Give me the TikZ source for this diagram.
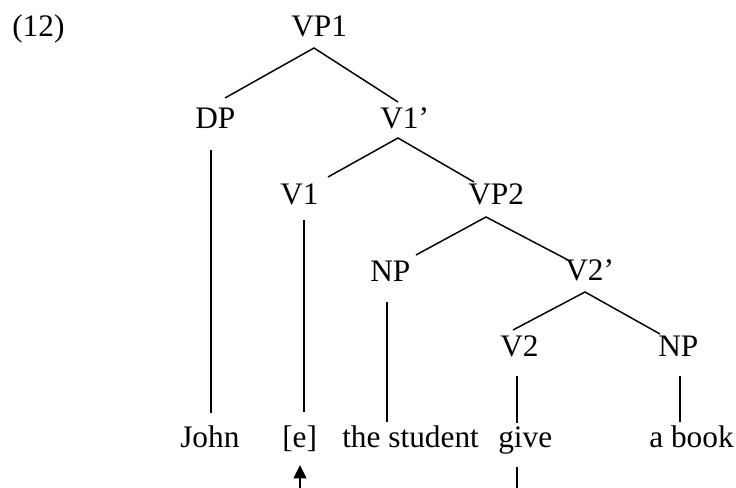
\documentclass[tikz,border=0pt]{standalone}
\usepackage{fontspec}
\setmainfont{Liberation Serif}
\usetikzlibrary{calc,arrows.meta}
\begin{document}
\begin{tikzpicture}[x=0.75pt,y=-0.75pt,
  lbl/.style={anchor=base west,inner sep=0pt,font=\fontsize{23.5}{27}\selectfont},
  br/.style={line width=1.1pt,line cap=butt}]
\useasboundingbox (0,0) rectangle (736,488);
% labels
\node[lbl] (ex)   at (12,37)   {(12)};
\node[lbl] (vp1)  at (291,37)  {VP1};
\node[lbl] (dp)   at (195,129) {DP};
\node[lbl] (v1p)  at (380,129) {V1’};
\node[lbl] (v1)   at (280,205) {V1};
\node[lbl] (vp2)  at (468,205) {VP2};
\node[lbl] (np1)  at (370,282) {NP};
\node[lbl] (v2p)  at (565,281) {V2’};
\node[lbl] (v2)   at (500,357) {V2};
\node[lbl] (np2)  at (658,357) {NP};
\node[lbl] (john) at (180,447) {John};
\node[lbl] (e)    at (282,447) {[e]};
\node[lbl] (stu)  at (342,447) {the student};
\node[lbl] (give) at (498,447) {give};
\node[lbl] (book) at (649,447) {a book};
\coordinate (arrowfoot) at (300,488);
\coordinate (givefoot) at (517,488);
% branches
\draw[br] ($(dp.base west)+(30,-31)$) -- ($(vp1.base west)+(23,11)$) -- ($(v1p.base west)+(18,-27)$);
\draw[br] ($(v1.base west)+(48,-28)$) -- ($(v1p.base west)+(18,9)$) -- ($(vp2.base west)+(6,-23)$);
\draw[br] ($(np1.base west)+(46,-27)$) -- ($(vp2.base west)+(18,12)$) -- ($(v2p.base west)+(3,-21)$);
\draw[br] ($(v2.base west)+(13,-27)$) -- ($(v2p.base west)+(20,11)$) -- ($(np2.base west)+(2,-23)$);
% verticals
\draw[br] ($(dp.base west)+(16,21)$) -- ($(john.base west)+(31,-34)$);
\draw[br] ($(v1.base west)+(24,15)$) -- ($(e.base west)+(22,-35)$);
\draw[br] ($(np1.base west)+(17,20)$) -- ($(stu.base west)+(45,-25)$);
\draw[br] ($(v2.base west)+(17,19)$) -- ($(give.base west)+(19,-24)$);
\draw[br] ($(np2.base west)+(22,19)$) -- ($(book.base west)+(31,-25)$);
% movement
\draw[br,-{Triangle[width=9.5pt,length=10pt]}] (arrowfoot) -- ($(e.base west)+(18,18)$);
\draw[br] ($(give.base west)+(19,20)$) -- (givefoot);
\end{tikzpicture}
\end{document}
